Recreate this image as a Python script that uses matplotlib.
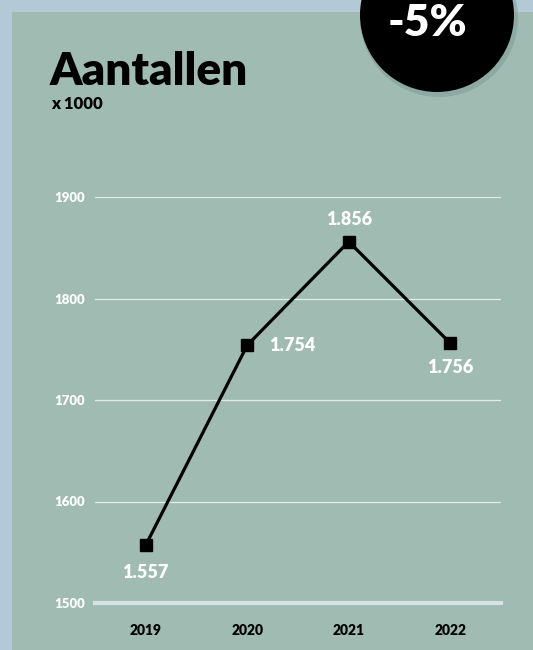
import matplotlib

matplotlib.use("Agg")
import matplotlib.pyplot as plt
from matplotlib.patches import Rectangle, Circle

plt.rcParams["font.family"] = ["Lato", "DejaVu Sans"]

years = ["2019", "2020", "2021", "2022"]
counts = [1557, 1754, 1856, 1756]
count_labels = ["1.557", "1.754", "1.856", "1.756"]
yticks = [1500, 1600, 1700, 1800, 1900]
title = "Aantallen"
subtitle = "x 1000"
badge = "-5%"

outer_bg = "#b3c9d5"
panel_bg = "#a0bbb2"
W = "heavy"

fig = plt.figure(figsize=(5.33, 6.5), dpi=100)
fig.patch.set_facecolor(outer_bg)

# green panel and black badge (positions in inches from bottom-left)
fig.patches.append(Rectangle((0.12, 0), 6, 6.38, transform=fig.dpi_scale_trans,
                             facecolor=panel_bg, edgecolor="none", zorder=0))
fig.patches.append(Circle((4.39, 6.32), 0.79, transform=fig.dpi_scale_trans,
                          facecolor="#7e9991", edgecolor="none", alpha=0.5, zorder=1))
fig.patches.append(Circle((4.37, 6.35), 0.77, transform=fig.dpi_scale_trans,
                          facecolor="black", edgecolor="none", zorder=2))
fig.text(427 / 533, 1 - 36 / 650, badge, color="white", fontsize=32, fontweight=W,
         ha="center", va="baseline", zorder=3)

fig.text(50 / 533, 1 - 85 / 650, title, color="black", fontsize=33, fontweight=W,
         ha="left", va="baseline")
fig.text(51 / 533, 1 - 109 / 650, subtitle, color="black", fontsize=12, fontweight=W,
         ha="left", va="baseline")

ax = fig.add_axes([95 / 533, 1 - 603 / 650, 406 / 533, 406 / 650])
ax.set_zorder(5)
ax.set_facecolor("none")
x = list(range(len(years)))

for t in yticks[1:]:
    ax.axhline(t, color="#e4ecea", linewidth=0.9, zorder=1)
ax.axhline(yticks[0], color="#d6e2df", linewidth=3.0, zorder=1, clip_on=False)

ax.plot(x, counts, color="black", linewidth=2.3, marker="s", markersize=9, zorder=3,
        clip_on=False)

offsets = [(0, -27), (45, 0), (0, 22), (0, -24)]
for xi, v, lab, (dx, dy) in zip(x, counts, count_labels, offsets):
    ax.annotate(lab, (xi, v), xytext=(dx * 0.72, dy * 0.72), textcoords="offset points",
                ha="center", va="center", color="white", fontsize=13, fontweight=W)

ax.set_xlim(-0.5, 3.5)
ax.set_ylim(1500, 1900)
ax.set_xticks(x)
ax.set_xticklabels(years, fontsize=10, fontweight=W, color="black")
ax.set_yticks(yticks)
ax.set_yticklabels([str(t) for t in yticks], fontsize=9.5, fontweight=W, color="white")
ax.tick_params(axis="both", length=0)
ax.tick_params(axis="x", pad=15)
ax.tick_params(axis="y", pad=7)
for s in ax.spines.values():
    s.set_visible(False)

plt.savefig("out.png", dpi=100, facecolor=fig.get_facecolor())
